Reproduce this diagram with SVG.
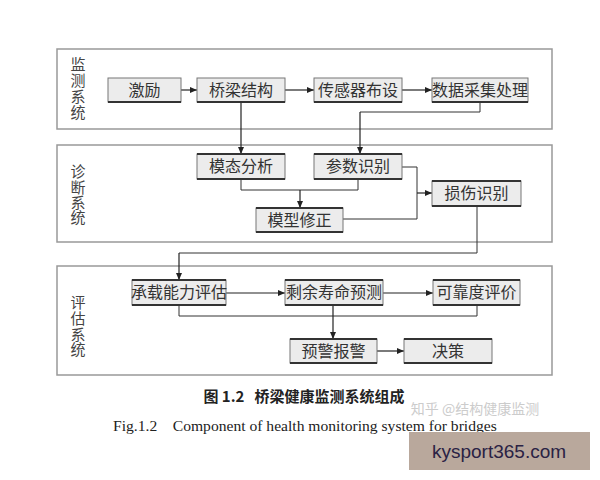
<svg xmlns="http://www.w3.org/2000/svg" width="600" height="480" viewBox="0 0 600 480">
<defs>
<marker id="ah" markerWidth="8" markerHeight="8" refX="7" refY="4" orient="auto" markerUnits="userSpaceOnUse">
<path d="M0,1 L7,4 L0,7 Z" fill="#222"/>
</marker>
<style>
.panel{fill:#fff;stroke:#999;stroke-width:1.5}
.box rect{fill:#ececec;stroke:#777;stroke-width:1}
.box line{stroke:#333;stroke-width:2.2}
.t{font-family:"Liberation Serif","Noto Sans CJK SC",serif;font-size:16px;fill:#333;text-anchor:middle}
.lbl{font-family:"Liberation Serif","Noto Sans CJK SC",serif;font-size:15px;fill:#444;text-anchor:middle}
.c{fill:none;stroke:#333;stroke-width:1}
.ca{fill:none;stroke:#222;stroke-width:1.2;marker-end:url(#ah)}
</style>
</defs>
<rect width="600" height="480" fill="#fff"/>
<g id="panels">
<rect class="panel" x="57" y="49" width="495" height="80"/>
<rect class="panel" x="57" y="145" width="495" height="97"/>
<rect class="panel" x="57" y="266" width="495" height="109"/>
</g>
<g id="labels">
<text class="lbl" x="78" y="70">监</text><text class="lbl" x="78" y="86">测</text><text class="lbl" x="78" y="102">系</text><text class="lbl" x="78" y="118">统</text>
<text class="lbl" x="78" y="177">诊</text><text class="lbl" x="78" y="193">断</text><text class="lbl" x="78" y="208">系</text><text class="lbl" x="78" y="223">统</text>
<text class="lbl" x="78" y="308">评</text><text class="lbl" x="78" y="324">估</text><text class="lbl" x="78" y="340">系</text><text class="lbl" x="78" y="355">统</text>
</g>
<g id="connectors">
<line class="ca" x1="181" y1="90" x2="197" y2="90"/>
<line class="ca" x1="285" y1="90" x2="314" y2="90"/>
<line class="ca" x1="402" y1="90" x2="432" y2="90"/>
<path class="c" d="M480,102 V112 H360"/>
<path class="ca" d="M360,112 V154"/>
<path class="ca" d="M241,102 V154"/>
<path class="c" d="M241,179 V190 H358 V179"/>
<path class="ca" d="M300,190 V208"/>
<path class="c" d="M402,167 H417 V219 H343"/>
<path class="ca" d="M417,193 H432"/>
<path class="c" d="M477,206 V253 H179"/>
<path class="ca" d="M179,253 V280"/>
<line class="ca" x1="226" y1="293" x2="285" y2="293"/>
<line class="ca" x1="383" y1="293" x2="433" y2="293"/>
<path class="c" d="M179,305 V316 H477 V305"/>
<path class="ca" d="M333,305 V339"/>
<line class="ca" x1="377" y1="351" x2="404" y2="351"/>
</g>
<g id="n1" class="box"><rect x="108" y="78" width="73" height="24"/><line x1="108" y1="102" x2="181" y2="102"/><text class="t" x="144.5" y="96">激励</text></g>
<g id="n2" class="box"><rect x="197" y="78" width="88" height="24"/><line x1="197" y1="102" x2="285" y2="102"/><text class="t" x="241" y="96">桥梁结构</text></g>
<g id="n3" class="box"><rect x="314" y="78" width="88" height="24"/><line x1="314" y1="102" x2="402" y2="102"/><text class="t" x="358" y="96">传感器布设</text></g>
<g id="n4" class="box"><rect x="432" y="78" width="96" height="24"/><line x1="432" y1="102" x2="528" y2="102"/><text class="t" x="480" y="96">数据采集处理</text></g>
<g id="n5" class="box"><rect x="197" y="154" width="88" height="25"/><line x1="197" y1="154" x2="285" y2="154"/><line x1="197" y1="179" x2="285" y2="179"/><text class="t" x="241" y="172">模态分析</text></g>
<g id="n6" class="box"><rect x="314" y="154" width="88" height="25"/><line x1="314" y1="154" x2="402" y2="154"/><line x1="314" y1="179" x2="402" y2="179"/><text class="t" x="358" y="172">参数识别</text></g>
<g id="n7" class="box"><rect x="432" y="181" width="89" height="25"/><line x1="432" y1="181" x2="521" y2="181"/><line x1="432" y1="206" x2="521" y2="206"/><text class="t" x="476.5" y="199">损伤识别</text></g>
<g id="n8" class="box"><rect x="256" y="208" width="87" height="24"/><line x1="256" y1="208" x2="343" y2="208"/><line x1="256" y1="232" x2="343" y2="232"/><text class="t" x="299.5" y="226">模型修正</text></g>
<g id="n9" class="box"><rect x="132" y="280" width="94" height="25"/><line x1="132" y1="280" x2="226" y2="280"/><line x1="132" y1="305" x2="226" y2="305"/><text class="t" x="179" y="298">承载能力评估</text></g>
<g id="n10" class="box"><rect x="285" y="280" width="98" height="25"/><line x1="285" y1="280" x2="383" y2="280"/><line x1="285" y1="305" x2="383" y2="305"/><text class="t" x="334" y="298">剩余寿命预测</text></g>
<g id="n11" class="box"><rect x="433" y="280" width="87" height="25"/><line x1="433" y1="280" x2="520" y2="280"/><line x1="433" y1="305" x2="520" y2="305"/><text class="t" x="476.5" y="298">可靠度评价</text></g>
<g id="n12" class="box"><rect x="290" y="339" width="87" height="24"/><line x1="290" y1="339" x2="377" y2="339"/><line x1="290" y1="363" x2="377" y2="363"/><text class="t" x="333.5" y="357">预警报警</text></g>
<g id="n13" class="box"><rect x="404" y="339" width="88" height="24"/><line x1="404" y1="339" x2="492" y2="339"/><line x1="404" y1="363" x2="492" y2="363"/><text class="t" x="448" y="357">决策</text></g>
<g id="caption">
<text x="304" y="402" font-family="'Noto Sans CJK SC',sans-serif" font-size="15" font-weight="bold" fill="#222" text-anchor="middle" xml:space="preserve">图 1.2   桥梁健康监测系统组成</text>
<text x="113" y="431" font-family="'Liberation Serif',serif" font-size="15.6" fill="#222" xml:space="preserve">Fig.1.2    Component of health monitoring system for bridges</text>
<text x="475" y="414" font-family="'Noto Sans CJK SC',sans-serif" font-size="14" fill="#ccc" text-anchor="middle">知乎 @结构健康监测</text>
<rect x="409" y="432" width="181" height="38" fill="#b9a89c"/>
<text x="499" y="458" font-family="'Liberation Sans',sans-serif" font-size="19" fill="#2a2244" text-anchor="middle">kysport365.com</text>
</g>
</svg>
